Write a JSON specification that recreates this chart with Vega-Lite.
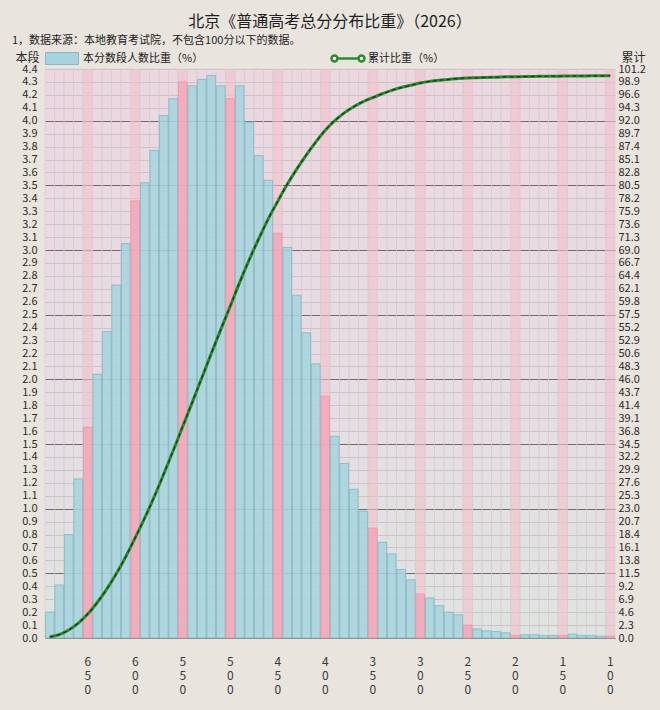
{
  "$schema": "https://vega.github.io/schema/vega-lite/v6.json",
  "width": 570,
  "height": 569,
  "autosize": {"type": "none"},
  "padding": {"left": 45, "top": 69, "right": 45, "bottom": 72},
  "background": "#e9e4de",
  "title": {
    "text": "北京《普通高考总分分布比重》（2026）",
    "anchor": "middle",
    "frame": "group",
    "font": "Noto Sans CJK SC",
    "fontSize": 16,
    "fontWeight": "normal",
    "color": "#1e1e1e",
    "offset": 5
  },
  "config": {
    "view": {"stroke": null, "fill": {"gradient": "linear", "x1": 0, "y1": 0, "x2": 0, "y2": 1, "stops": [{"offset": 0, "color": "#ecd7df"}, {"offset": 0.6, "color": "#e6dde3"}, {"offset": 1, "color": "#dfe4e0"}]}},
    "font": "Noto Sans CJK SC",
    "axis": {"labelFont": "Noto Sans CJK SC", "titleFont": "Noto Sans CJK SC", "labelColor": "#2a2a2a", "titleColor": "#2a2a2a"},
    "legend": {"labelFont": "Noto Sans CJK SC", "titleFont": "Noto Sans CJK SC"}
  },
  "data": {
    "values": [
      {"score": 690, "pct": 0.2, "cum": 0.2},
      {"score": 680, "pct": 0.41, "cum": 0.61},
      {"score": 670, "pct": 0.8, "cum": 1.41},
      {"score": 660, "pct": 1.23, "cum": 2.64},
      {"score": 650, "pct": 1.63, "cum": 4.27},
      {"score": 640, "pct": 2.04, "cum": 6.31},
      {"score": 630, "pct": 2.37, "cum": 8.68},
      {"score": 620, "pct": 2.73, "cum": 11.41},
      {"score": 610, "pct": 3.05, "cum": 14.46},
      {"score": 600, "pct": 3.38, "cum": 17.84},
      {"score": 590, "pct": 3.52, "cum": 21.36},
      {"score": 580, "pct": 3.77, "cum": 25.13},
      {"score": 570, "pct": 4.04, "cum": 29.17},
      {"score": 560, "pct": 4.17, "cum": 33.34},
      {"score": 550, "pct": 4.3, "cum": 37.64},
      {"score": 540, "pct": 4.27, "cum": 41.91},
      {"score": 530, "pct": 4.32, "cum": 46.23},
      {"score": 520, "pct": 4.35, "cum": 50.58},
      {"score": 510, "pct": 4.27, "cum": 54.85},
      {"score": 500, "pct": 4.17, "cum": 59.02},
      {"score": 490, "pct": 4.27, "cum": 63.29},
      {"score": 480, "pct": 3.99, "cum": 67.28},
      {"score": 470, "pct": 3.73, "cum": 71.01},
      {"score": 460, "pct": 3.54, "cum": 74.55},
      {"score": 450, "pct": 3.13, "cum": 77.68},
      {"score": 440, "pct": 3.02, "cum": 80.7},
      {"score": 430, "pct": 2.65, "cum": 83.4},
      {"score": 420, "pct": 2.36, "cum": 85.9},
      {"score": 410, "pct": 2.12, "cum": 88.2},
      {"score": 400, "pct": 1.87, "cum": 90.3},
      {"score": 390, "pct": 1.56, "cum": 92.0},
      {"score": 380, "pct": 1.35, "cum": 93.4},
      {"score": 370, "pct": 1.15, "cum": 94.5},
      {"score": 360, "pct": 0.98, "cum": 95.4},
      {"score": 350, "pct": 0.85, "cum": 96.1},
      {"score": 340, "pct": 0.74, "cum": 96.8},
      {"score": 330, "pct": 0.65, "cum": 97.4},
      {"score": 320, "pct": 0.53, "cum": 97.9},
      {"score": 310, "pct": 0.45, "cum": 98.3},
      {"score": 300, "pct": 0.34, "cum": 98.7},
      {"score": 290, "pct": 0.31, "cum": 99.0},
      {"score": 280, "pct": 0.25, "cum": 99.2},
      {"score": 270, "pct": 0.2, "cum": 99.35},
      {"score": 260, "pct": 0.18, "cum": 99.5},
      {"score": 250, "pct": 0.1, "cum": 99.6},
      {"score": 240, "pct": 0.07, "cum": 99.65},
      {"score": 230, "pct": 0.055, "cum": 99.7},
      {"score": 220, "pct": 0.05, "cum": 99.75},
      {"score": 210, "pct": 0.04, "cum": 99.8},
      {"score": 200, "pct": 0.02, "cum": 99.82},
      {"score": 190, "pct": 0.025, "cum": 99.85},
      {"score": 180, "pct": 0.025, "cum": 99.88},
      {"score": 170, "pct": 0.02, "cum": 99.9},
      {"score": 160, "pct": 0.02, "cum": 99.92},
      {"score": 150, "pct": 0.02, "cum": 99.94},
      {"score": 140, "pct": 0.03, "cum": 99.96},
      {"score": 130, "pct": 0.02, "cum": 99.97},
      {"score": 120, "pct": 0.02, "cum": 99.98},
      {"score": 110, "pct": 0.015, "cum": 99.99},
      {"score": 100, "pct": 0.015, "cum": 100.0}
    ]
  },
  "encoding": {
    "x": {
      "field": "score", "type": "ordinal", "sort": "descending",
      "scale": {"paddingInner": 0, "paddingOuter": 0},
      "axis": {
        "title": null, "ticks": false, "domain": false, "grid": false,
        "labelAngle": 0, "labelPadding": 18, "labelBaseline": "top", "labelLineHeight": 14,
        "labelFontSize": 12, "labelOverlap": false, "labelColor": "#3a3a3a",
        "labelExpr": "datum.value % 50 === 0 ? split(datum.label, '') : ''"
      }
    }
  },
  "layer": [
    {
      "mark": {"type": "rect", "strokeWidth": 0.5, "stroke": "#d2cbd0", "fillOpacity": 0.6},
      "encoding": {
        "fill": {"condition": {"test": "datum.score % 50 === 0", "value": "#f3bfcb"}, "value": "transparent"}
      }
    },
    {
      "mark": {"type": "bar", "width": {"band": 0.92}, "strokeWidth": 0.8, "fillOpacity": 0.88},
      "encoding": {
        "y": {
          "field": "pct", "type": "quantitative",
          "scale": {"domain": [0, 4.4], "nice": false, "zero": true},
          "axis": {
            "values": [0,0.1,0.2,0.3,0.4,0.5,0.6,0.7,0.8,0.9,1.0,1.1,1.2,1.3,1.4,1.5,1.6,1.7,1.8,1.9,2.0,2.1,2.2,2.3,2.4,2.5,2.6,2.7,2.8,2.9,3.0,3.1,3.2,3.3,3.4,3.5,3.6,3.7,3.8,3.9,4.0,4.1,4.2,4.3,4.4],
            "format": ".1f", "ticks": false, "domain": false, "labelPadding": 8,
            "labelFontSize": 11, "labelOverlap": false, "labelFlush": false,
            "grid": true,
            "gridColor": {"condition": {"test": "round(datum.value * 10) % 5 === 0", "value": "#6e6a6c"}, "value": "#cac3c7"},
            "gridWidth": 1,
            "title": "本段", "titleAngle": 0, "titleX": -18, "titleY": -12,
            "titleAlign": "center", "titleBaseline": "middle", "titleFontSize": 12, "titleFontWeight": "normal"
          }
        },
        "fill": {
          "condition": {"test": "datum.score % 50 === 0", "value": "#f2a9b8"},
          "datum": "本分数段人数比重（%）",
          "scale": {"range": ["#a7d4dd"]},
          "legend": {
            "orient": "none", "legendX": -33, "legendY": -34,
            "title": "1，数据来源：本地教育考试院，不包含100分以下的数据。",
            "titleFontSize": 11, "titleFontWeight": "normal", "titleColor": "#222222", "titlePadding": -4.5, "titleLimit": 400,
            "symbolType": "M-1,-0.36H1V0.36H-1Z", "symbolSize": 1089, "symbolOffset": 33,
            "symbolStrokeColor": "#86b9c4", "symbolStrokeWidth": 1, "symbolOpacity": 1,
            "labelFontSize": 11, "labelOffset": 4, "labelColor": "#222222", "labelLimit": 300
          }
        },
        "stroke": {"condition": {"test": "datum.score % 50 === 0", "value": "#e497a8"}, "value": "#80b6c2"}
      }
    },
    {
      "encoding": {
        "y": {
          "field": "cum", "type": "quantitative",
          "scale": {"domain": [0, 101.2], "nice": false, "zero": true},
          "axis": {
            "orient": "right",
            "values": [0,2.3,4.6,6.9,9.2,11.5,13.8,16.1,18.4,20.7,23,25.3,27.6,29.9,32.2,34.5,36.8,39.1,41.4,43.7,46,48.3,50.6,52.9,55.2,57.5,59.8,62.1,64.4,66.7,69,71.3,73.6,75.9,78.2,80.5,82.8,85.1,87.4,89.7,92,94.3,96.6,98.9,101.2],
            "format": ".1f", "ticks": false, "domain": false, "grid": false, "labelPadding": 3,
            "labelFontSize": 11, "labelOverlap": false, "labelFlush": false,
            "title": "累计", "titleAngle": 0, "titleX": 18, "titleY": -12,
            "titleAlign": "center", "titleBaseline": "middle", "titleFontSize": 12, "titleFontWeight": "normal"
          }
        }
      },
      "layer": [
        {
          "mark": {"type": "line", "interpolate": "monotone", "strokeWidth": 3},
          "encoding": {
            "stroke": {
              "datum": "累计比重（%）",
              "scale": {"range": ["#2b8a2e"]},
              "legend": {
                "orient": "none", "legendX": 285, "legendY": -28.5, "title": null,
                "symbolType": "M-1,0A0.18,0.18,0,1,0,-0.64,0A0.18,0.18,0,1,0,-1,0M-0.64,0H0.64M0.64,0A0.18,0.18,0,1,0,1,0A0.18,0.18,0,1,0,0.64,0",
                "symbolSize": 1089, "symbolStrokeWidth": 2.5, "symbolFillColor": "#ffffff",
                "labelFontSize": 11, "labelOffset": 2, "labelColor": "#222222", "labelLimit": 300
              }
            }
          }
        },
        {
          "mark": {"type": "line", "interpolate": "monotone", "strokeWidth": 1.2, "strokeDash": [4, 3], "stroke": "#173a1c"},
          "encoding": {}
        }
      ]
    }
  ],
  "resolve": {"scale": {"y": "independent"}}
}
